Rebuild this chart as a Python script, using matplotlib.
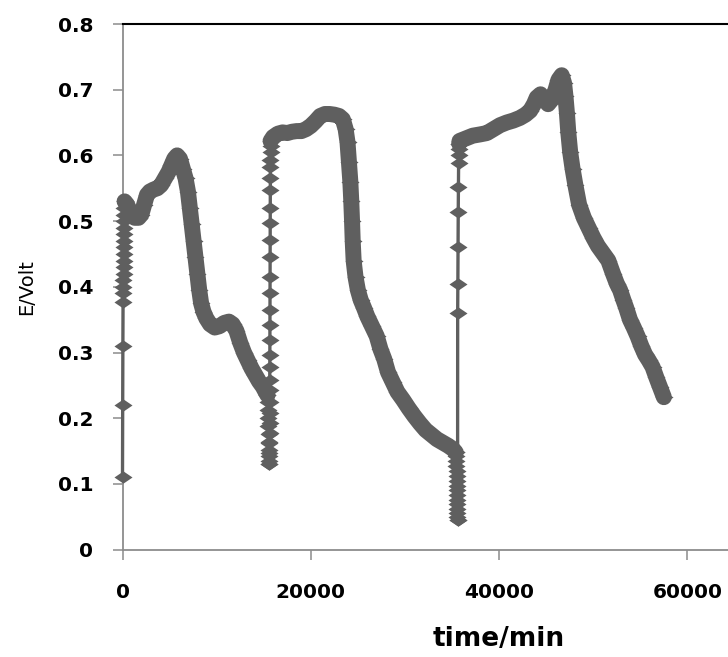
import matplotlib
matplotlib.use("Agg")
import matplotlib.pyplot as plt
from matplotlib.path import Path

# ---------------- data (time in min, E in Volt) ----------------
t_rise1 = [0, 20, 40, 60, 80, 90, 100, 110, 120, 130, 140, 150, 160, 170, 180, 190, 200, 210, 220]
E_rise1 = [0.11, 0.22, 0.31, 0.377, 0.39, 0.40, 0.41, 0.42, 0.43, 0.44, 0.45, 0.46, 0.47, 0.48, 0.49, 0.50, 0.51, 0.52, 0.53]

t_band1 = [220, 500, 900, 1300, 1700, 2000, 2300, 2600, 2900, 3300, 3700, 4100, 4500, 4900, 5200, 5500,
           5800, 6100, 6400, 6700, 6950, 7150, 7350, 7550, 7750, 7950, 8150, 8350, 8600, 8900, 9300,
           9800, 10300, 10800, 11300, 11700, 12100, 12500, 12900, 13300, 13700, 14100, 14500, 14900,
           15200, 15400]
E_band1 = [0.53, 0.525, 0.51, 0.505, 0.505, 0.51, 0.525, 0.54, 0.545, 0.548, 0.55, 0.555, 0.565, 0.575, 0.585, 0.595,
           0.60, 0.595, 0.58, 0.565, 0.545, 0.52, 0.495, 0.47, 0.445, 0.42, 0.395, 0.375, 0.362, 0.352, 0.343,
           0.338, 0.34, 0.345, 0.347, 0.343, 0.333, 0.315, 0.30, 0.288, 0.276, 0.266, 0.256, 0.248,
           0.24, 0.235]

t_drop2 = [15450, 15470, 15490, 15500, 15520, 15540, 15560, 15580, 15590, 15600]
E_drop2 = [0.225, 0.212, 0.20, 0.188, 0.176, 0.164, 0.152, 0.142, 0.135, 0.13]

t_rise2 = [15600, 15605, 15610, 15615, 15620, 15625, 15630, 15635, 15640, 15645, 15650, 15655, 15660,
           15665, 15670, 15675, 15680, 15685, 15690, 15695, 15700, 15705, 15710, 15715, 15720, 15725]
E_rise2 = [0.13, 0.147, 0.162, 0.177, 0.193, 0.208, 0.225, 0.243, 0.258, 0.278, 0.296, 0.319, 0.342,
           0.365, 0.391, 0.415, 0.446, 0.471, 0.497, 0.520, 0.547, 0.565, 0.582, 0.593, 0.605, 0.615]

t_band2 = [15725, 16000, 16500, 17000, 17500, 18000, 18500, 19000, 19500, 20000, 20500, 21000, 21500,
           22000, 22500, 23000, 23400, 23700, 23900, 24050, 24200, 24300, 24380, 24450, 24550, 24750,
           25000, 25300, 25650, 26000, 26500, 27000, 27400, 27800, 28200, 28700, 29200, 29800, 30400,
           31000, 31600, 32200, 32800, 33400, 34000, 34600, 35100, 35400]
E_band2 = [0.622, 0.628, 0.633, 0.635, 0.634, 0.636, 0.637, 0.637, 0.64, 0.645, 0.652, 0.66, 0.663,
           0.663, 0.662, 0.66, 0.655, 0.64, 0.62, 0.59, 0.56, 0.53, 0.50, 0.47, 0.44, 0.415,
           0.395, 0.38, 0.368, 0.355, 0.34, 0.325, 0.305, 0.29, 0.27, 0.255, 0.24, 0.228, 0.215,
           0.203, 0.192, 0.182, 0.175, 0.168, 0.163, 0.158, 0.153, 0.148]

t_drop3 = [35450, 35460, 35470, 35480, 35490, 35500, 35510, 35520, 35530, 35540, 35550, 35560, 35570, 35580, 35590]
E_drop3 = [0.142, 0.135, 0.127, 0.12, 0.112, 0.105, 0.097, 0.09, 0.083, 0.076, 0.069, 0.062, 0.056, 0.05, 0.045]

t_rise3 = [35590, 35600, 35620, 35640, 35660, 35680, 35700, 35720, 35740, 35760]
E_rise3 = [0.045, 0.36, 0.405, 0.46, 0.514, 0.552, 0.588, 0.60, 0.61, 0.618]

t_band3 = [35800, 36500, 37200, 38000, 38700, 39400, 40100, 40800, 41500, 42200, 42800, 43300, 43700,
           44000, 44400, 44800, 45200, 45600, 46000, 46300, 46650, 46900, 47050, 47200, 47350, 47550,
           47800, 48100, 48500, 49000, 49500, 50000, 50500, 51000, 51600, 52100, 52500, 52850, 53200,
           53500, 53900, 54300, 54700, 55100, 55500, 55900, 56300, 56700, 57100, 57500]
E_band3 = [0.622, 0.626, 0.63, 0.632, 0.634, 0.64, 0.646, 0.65, 0.653, 0.657, 0.662, 0.668, 0.678,
           0.688, 0.693, 0.685, 0.678, 0.685, 0.70, 0.715, 0.722, 0.71, 0.69, 0.665, 0.635, 0.605,
           0.58, 0.555, 0.525, 0.505, 0.49, 0.475, 0.462, 0.452, 0.44, 0.42, 0.405, 0.395, 0.38,
           0.368, 0.35, 0.338, 0.325, 0.31, 0.297, 0.288, 0.278, 0.262, 0.247, 0.232]

x_ticks = [0, 20000, 40000, 60000]
x_tick_labels = ["0", "20000", "40000", "60000"]
y_ticks = [0, 0.1, 0.2, 0.3, 0.4, 0.5, 0.6, 0.7, 0.8]
y_tick_labels = ["0", "0.1", "0.2", "0.3", "0.4", "0.5", "0.6", "0.7", "0.8"]

# ---------------- styling ----------------
COLOR = "#5f5f5f"
AX_GRAY = "#8c8c8c"
diamond = Path([(-1.0, 0.0), (0.0, 0.68), (1.0, 0.0), (0.0, -0.68), (-1.0, 0.0)],
               [Path.MOVETO, Path.LINETO, Path.LINETO, Path.LINETO, Path.CLOSEPOLY])

fig = plt.figure(figsize=(7.28, 6.57), dpi=100)
W, H = 728.0, 657.0
x0_px, y0_px, ytop_px = 122.5, 549.6, 24.0
px_per_20000 = 188.3
ax = fig.add_axes([x0_px / W, 1 - y0_px / H, 4 * px_per_20000 / W, (y0_px - ytop_px) / H])

MS = 13
thin = dict(color=COLOR, lw=2.4, marker=diamond, ms=MS, mec="none", mfc=COLOR,
            clip_on=False, zorder=5)
thick = dict(color=COLOR, lw=11.5, marker=diamond, ms=MS, mec="none", mfc=COLOR,
             solid_capstyle="round", solid_joinstyle="round", clip_on=False, zorder=5)

ax.plot(t_rise1, E_rise1, **thin)
ax.plot(t_band1, E_band1, **thick)
ax.plot([t_band1[-1]] + t_drop2, [E_band1[-1]] + E_drop2, **thin)
ax.plot(t_rise2, E_rise2, **thin)
ax.plot(t_band2, E_band2, **thick)
ax.plot([t_band2[-1]] + t_drop3, [E_band2[-1]] + E_drop3, **thin)
ax.plot(t_rise3, E_rise3, **thin)
ax.plot([t_rise3[-1]] + t_band3, [E_rise3[-1]] + E_band3, **thick)

ax.set_xlim(0, 80000)
ax.set_ylim(0, 0.8)
ax.set_xticks(x_ticks)
ax.set_xticklabels(x_tick_labels)
ax.set_yticks(y_ticks)
ax.set_yticklabels(y_tick_labels)

for lab in ax.get_xticklabels() + ax.get_yticklabels():
    lab.set_fontweight("bold")
    lab.set_fontsize(14.5)
    lab.set_family("DejaVu Sans")

ax.tick_params(axis="y", direction="out", length=7, width=1.1, color=AX_GRAY, pad=14)
ax.tick_params(axis="x", direction="out", length=7, width=1.1, color=AX_GRAY, pad=17)

ax.spines["left"].set_color(AX_GRAY)
ax.spines["left"].set_linewidth(1.3)
ax.spines["bottom"].set_color(AX_GRAY)
ax.spines["bottom"].set_linewidth(1.3)
ax.spines["top"].set_color("black")
ax.spines["top"].set_linewidth(1.5)
ax.spines["right"].set_visible(False)

ax.set_xlabel("time/min", fontsize=19, fontweight="bold", family="DejaVu Sans")
ax.xaxis.set_label_coords(0.5, -0.145)
ax.set_ylabel("E/Volt", fontsize=14, family="DejaVu Sans")
ax.yaxis.set_label_coords(-0.115, 0.5)

fig.savefig("out.png", dpi=100)
